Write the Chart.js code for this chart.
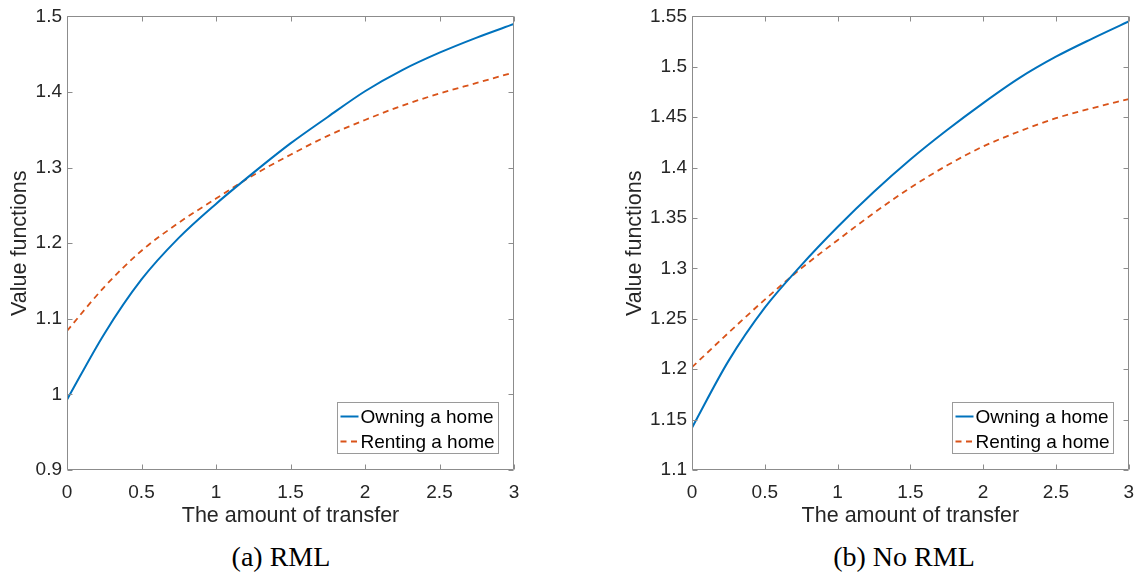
<!DOCTYPE html>
<html><head><meta charset="utf-8">
<script src="https://cdn.jsdelivr.net/npm/chart.js@4.4.1/dist/chart.umd.min.js"></script>
<style>
html,body{margin:0;padding:0;background:#fff;}
#wrap{position:relative;width:1145px;height:574px;background:#fff;overflow:hidden;}
canvas{position:absolute;top:0;}
.cap{position:absolute;top:540px;width:240px;height:34px;line-height:34px;text-align:center;font-family:"Liberation Serif","Times New Roman",serif;font-size:28px;color:#000;}
</style></head><body>
<div id="wrap">
<canvas id="c1" width="572" height="540" style="left:0;width:572px;height:540px"></canvas>
<canvas id="c2" width="573" height="540" style="left:572px;width:573px;height:540px"></canvas>
<div class="cap" style="left:161px">(a) RML</div>
<div class="cap" style="left:784px">(b) No RML</div>
</div>
<script>
const transfer = [0, 0.25, 0.5, 0.75, 1, 1.25, 1.5, 1.75, 2, 2.25, 2.5, 2.75, 3];
const ownRML    = [0.993, 1.080, 1.152, 1.207, 1.252, 1.293, 1.332, 1.367, 1.401, 1.429, 1.452, 1.472, 1.490];
const rentRML   = [1.084, 1.142, 1.190, 1.227, 1.259, 1.290, 1.317, 1.342, 1.363, 1.382, 1.398, 1.412, 1.426];
const ownNoRML  = [1.142, 1.208, 1.261, 1.303, 1.341, 1.376, 1.408, 1.437, 1.464, 1.489, 1.510, 1.528, 1.545];
const rentNoRML = [1.202, 1.236, 1.269, 1.300, 1.328, 1.355, 1.380, 1.402, 1.421, 1.436, 1.449, 1.459, 1.468];

const seriesNames = ['Owning a home', 'Renting a home'];
const xTicks = [0, 0.5, 1, 1.5, 2, 2.5, 3];
const xTickLabels = ['0', '0.5', '1', '1.5', '2', '2.5', '3'];
const yTicksA = [0.9, 1, 1.1, 1.2, 1.3, 1.4, 1.5];
const yTickLabelsA = ['0.9', '1', '1.1', '1.2', '1.3', '1.4', '1.5'];
const yTicksB = [1.1, 1.15, 1.2, 1.25, 1.3, 1.35, 1.4, 1.45, 1.5, 1.55];
const yTickLabelsB = ['1.1', '1.15', '1.2', '1.25', '1.3', '1.35', '1.4', '1.45', '1.5', '1.55'];
const xTitle = 'The amount of transfer';
const yTitle = 'Value functions';

const FONT = '"Liberation Sans", Arial, Helvetica, sans-serif';
const AXIS_COLOR = '#8c8c8c';
const TEXT_COLOR = '#262626';

const framePlugin = {
  id: 'frame',
  afterDatasetsDraw(chart) {
    const {ctx, chartArea: a, scales: {x, y}} = chart;
    ctx.save();
    ctx.strokeStyle = AXIS_COLOR;
    ctx.lineWidth = 1;
    const L = Math.round(a.left) + 0.5, R = Math.round(a.right) - 0.5;
    const T = Math.round(a.top) + 0.5, B = Math.round(a.bottom) - 0.5;
    ctx.beginPath();
    ctx.rect(L, T, R - L, B - T);
    const tl = 5;
    x.ticks.forEach(t => {
      const px = Math.round(x.getPixelForValue(t.value)) + 0.5;
      ctx.moveTo(px, B); ctx.lineTo(px, B - tl);
      ctx.moveTo(px, T); ctx.lineTo(px, T + tl);
    });
    y.ticks.forEach(t => {
      const py = Math.round(y.getPixelForValue(t.value)) + 0.5;
      ctx.moveTo(L, py); ctx.lineTo(L + tl, py);
      ctx.moveTo(R, py); ctx.lineTo(R - tl, py);
    });
    ctx.stroke();

    // legend box in lower right of plot area
    const bw = 161, bh = 51;
    const bx = Math.round(a.right - 16 - bw) + 0.5;
    const by = Math.round(a.bottom - 17 - bh) + 0.5;
    ctx.fillStyle = '#fff';
    ctx.fillRect(bx, by, bw, bh);
    ctx.strokeStyle = '#9a9a9a';
    ctx.strokeRect(bx, by, bw, bh);
    ctx.font = '19px ' + FONT;
    ctx.textBaseline = 'middle';
    ctx.textAlign = 'left';
    chart.data.datasets.forEach((ds, i) => {
      const cy = by + 14 + i * 25;
      ctx.strokeStyle = ds.borderColor;
      ctx.lineWidth = 2;
      ctx.setLineDash(ds.borderDash || []);
      ctx.beginPath();
      ctx.moveTo(bx + 3, cy); ctx.lineTo(bx + 21, cy);
      ctx.stroke();
      ctx.setLineDash([]);
      ctx.fillStyle = '#000';
      ctx.fillText(ds.label, bx + 23, cy + 1);
    });
    ctx.restore();
  }
};

function makeChart(id, own, rent, yTicks, yLabels, pad, yW) {
  return new Chart(document.getElementById(id), {
    type: 'line',
    data: {
      datasets: [
        {label: seriesNames[0], data: transfer.map((v, i) => ({x: v, y: own[i]})),
         borderColor: '#0072BD', borderWidth: 2, pointRadius: 0, cubicInterpolationMode: 'monotone', fill: false},
        {label: seriesNames[1], data: transfer.map((v, i) => ({x: v, y: rent[i]})),
         borderColor: '#D95319', borderWidth: 1.8, borderDash: [6, 4.5], pointRadius: 0, cubicInterpolationMode: 'monotone', fill: false}
      ]
    },
    options: {
      responsive: false, animation: false, devicePixelRatio: 1,
      layout: {padding: pad},
      plugins: {legend: {display: false}, tooltip: {enabled: false}},
      scales: {
        x: {
          type: 'linear', min: xTicks[0], max: xTicks[xTicks.length - 1],
          afterBuildTicks: s => { s.ticks = xTicks.map(v => ({value: v})); },
          afterFit: s => { s.height = 70; },
          grid: {display: false, drawTicks: false}, border: {display: false},
          ticks: {padding: 11, color: TEXT_COLOR, font: {family: FONT, size: 19}, autoSkip: false, maxRotation: 0,
                  callback: (v, i) => xTickLabels[i]},
          title: {display: true, text: xTitle, color: TEXT_COLOR, font: {family: FONT, size: 21.5}, padding: {top: 0, bottom: 11}}
        },
        y: {
          type: 'linear', min: yTicks[0], max: yTicks[yTicks.length - 1],
          afterBuildTicks: s => { s.ticks = yTicks.map(v => ({value: v})); },
          afterFit: s => { s.width = yW; },
          grid: {display: false, drawTicks: false}, border: {display: false},
          ticks: {padding: 5, color: TEXT_COLOR, font: {family: FONT, size: 19}, autoSkip: false,
                  callback: (v, i) => yLabels[i]},
          title: {display: true, text: yTitle, color: TEXT_COLOR, font: {family: FONT, size: 21.5}, padding: {top: 7, bottom: 0}}
        }
      }
    },
    plugins: [framePlugin]
  });
}

makeChart('c1', ownRML, rentRML, yTicksA, yTickLabelsA, {top: 14, right: 58, left: 0, bottom: 0}, 67);
makeChart('c2', ownNoRML, rentNoRML, yTicksB, yTickLabelsB, {top: 14, right: 7, left: 43, bottom: 0}, 77);
</script>
</body></html>
